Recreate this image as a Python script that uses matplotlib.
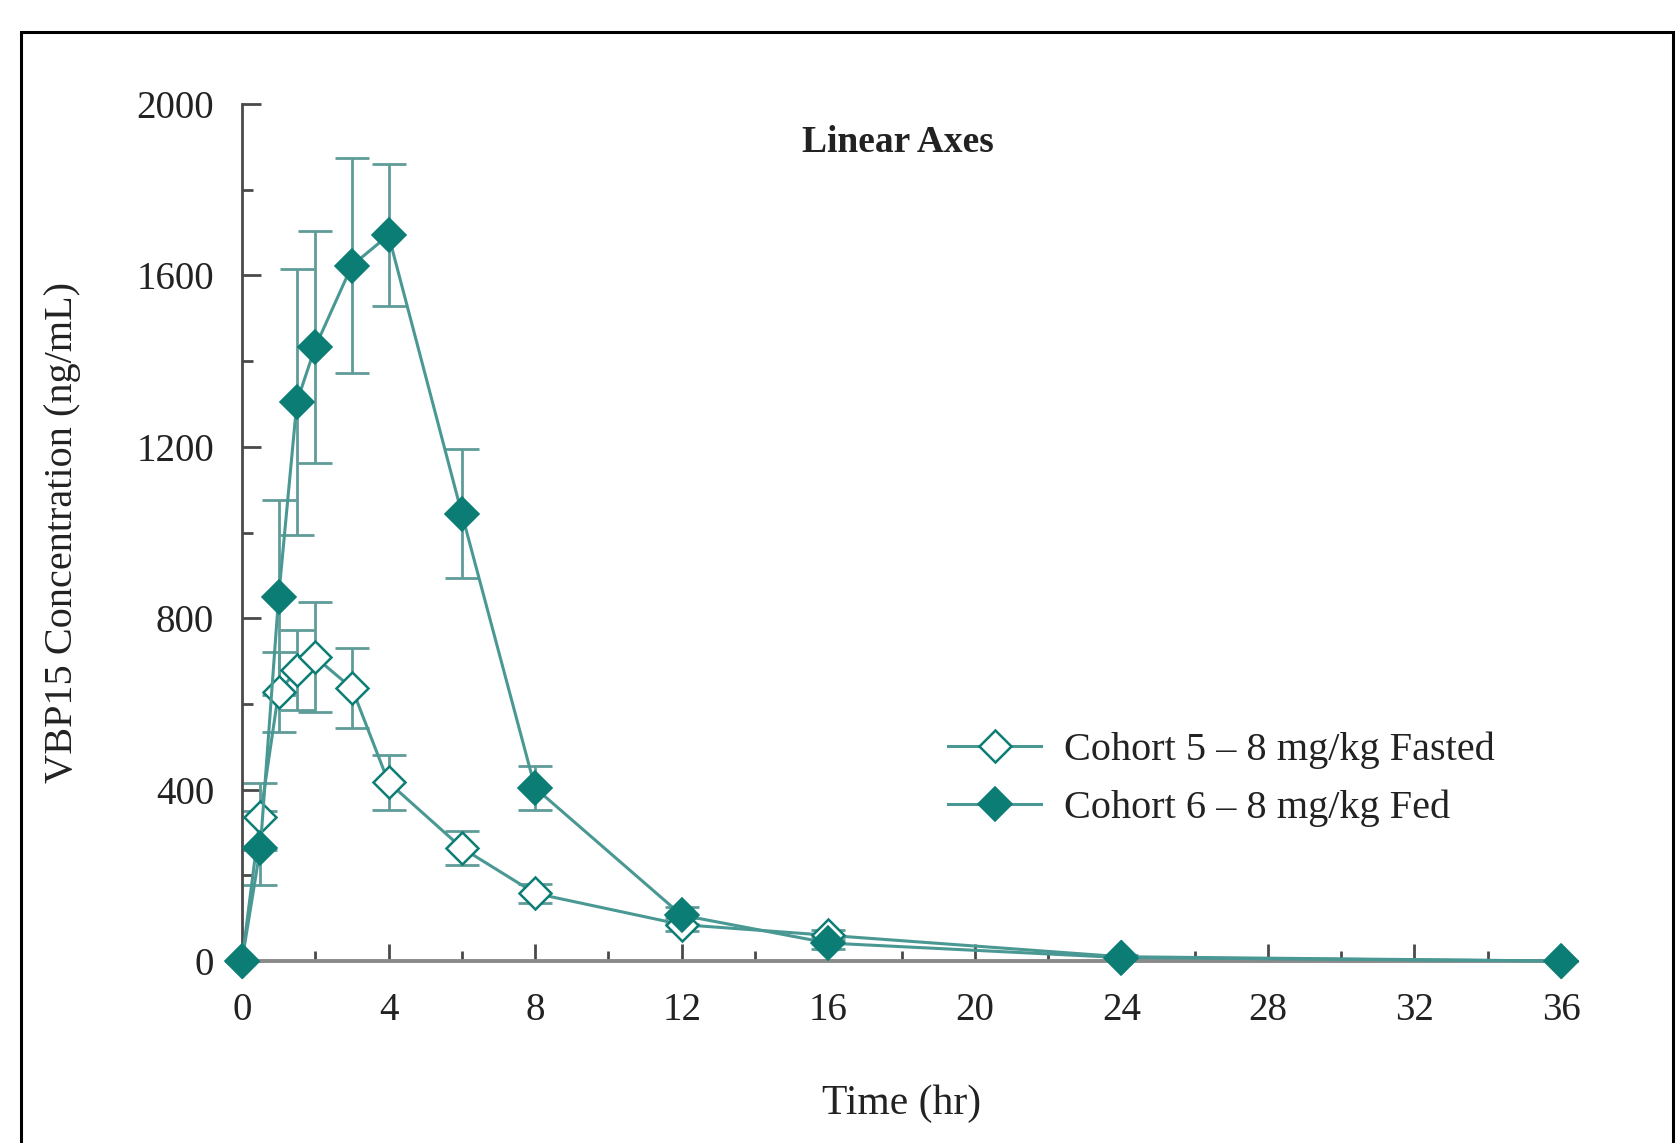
import numpy as np
import matplotlib.pyplot as plt
from matplotlib.patches import Rectangle
from matplotlib.ticker import MultipleLocator

plt.rcParams['font.family'] = ['Liberation Serif', 'DejaVu Serif']

# sampling times (hr)
time = [0, 0.5, 1, 1.5, 2, 3, 4, 6, 8, 12, 16, 24, 36]

# Cohort 5 - fasted
fasted = [0, 337, 628, 679, 709, 637, 417, 264, 158, 85, 60, 10, 0]
fasted_err = [0, 78, 93, 93, 128, 94, 64, 40, 22, 15, 12, 4, 0]

# Cohort 6 - fed
fed = [0, 263, 849, 1305, 1433, 1623, 1694, 1044, 404, 107, 42, 8, 0]
fed_err = [0, 86, 227, 310, 270, 250, 165, 150, 52, 20, 15, 4, 0]

labels = ['Cohort 5 \u2013 8 mg/kg Fasted', 'Cohort 6 \u2013 8 mg/kg Fed']
x_ticks = [0, 4, 8, 12, 16, 20, 24, 28, 32, 36]
y_ticks = [0, 400, 800, 1200, 1600, 2000]

teal = '#0b7d75'
line_col = '#4a9893'
err_col = '#5f9c98'
txt_col = '#222222'

fig = plt.figure(figsize=(16.78, 11.43), dpi=100)
ax = fig.add_axes([0.1442, 0.1592, 0.7861, 0.7498])

# frame around the whole picture
fig.patches.append(Rectangle((21 / 1678, -0.05), (1673 - 21) / 1678, 1.05 - 32 / 1143,
                             transform=fig.transFigure, fill=False,
                             edgecolor='black', linewidth=2.2, clip_on=False))

ax.errorbar(time, fasted, yerr=fasted_err, fmt='none', ecolor=err_col,
            elinewidth=2.0, capsize=12, capthick=2.0, clip_on=False, zorder=2)
ax.errorbar(time, fed, yerr=fed_err, fmt='none', ecolor=err_col,
            elinewidth=2.0, capsize=12, capthick=2.0, clip_on=False, zorder=2)

h1, = ax.plot(time, fasted, color=line_col, lw=2.2, marker='D', ms=16,
              mfc='white', mec=teal, mew=1.8, clip_on=False, zorder=3)
h2, = ax.plot(time, fed, color=line_col, lw=2.2, marker='D', ms=17,
              mfc=teal, mec=teal, mew=1.2, clip_on=False, zorder=4)

ax.set_xlim(0, 36)
ax.set_ylim(0, 2000)
ax.set_xticks(x_ticks)
ax.set_yticks(y_ticks)
ax.xaxis.set_minor_locator(MultipleLocator(2))
ax.yaxis.set_minor_locator(MultipleLocator(200))

for s in ['top', 'right']:
    ax.spines[s].set_visible(False)
ax.spines['left'].set_color('#4a4a4a')
ax.spines['left'].set_linewidth(2.0)
ax.spines['bottom'].set_color('#8a8a8a')
ax.spines['bottom'].set_linewidth(2.8)

ax.tick_params(axis='y', which='major', direction='in', length=14, width=2,
               color='#4a4a4a', labelsize=28, labelcolor=txt_col, pad=20)
ax.tick_params(axis='y', which='minor', direction='in', length=8, width=2,
               color='#4a4a4a')
ax.tick_params(axis='x', which='major', direction='in', length=12, width=2,
               color='#4a4a4a', labelsize=28, labelcolor=txt_col, pad=22)
ax.tick_params(axis='x', which='minor', direction='in', length=7, width=2,
               color='#4a4a4a')

ax.set_xlabel('Time (hr)', fontsize=30, color=txt_col, labelpad=40)
ax.set_ylabel('VBP15 Concentration (ng/mL)', fontsize=29, color=txt_col, labelpad=40)

ax.text(0.497, 0.955, 'Linear Axes', transform=ax.transAxes, ha='center',
        va='center', fontsize=27, fontweight='bold', color=txt_col)

ax.legend([h1, h2], labels, loc='upper left', bbox_to_anchor=(0.508, 0.31),
          frameon=False, fontsize=29, handlelength=2.3, handletextpad=0.58,
          labelspacing=0.5, labelcolor=txt_col)

fig.savefig('out.png', dpi=100)
